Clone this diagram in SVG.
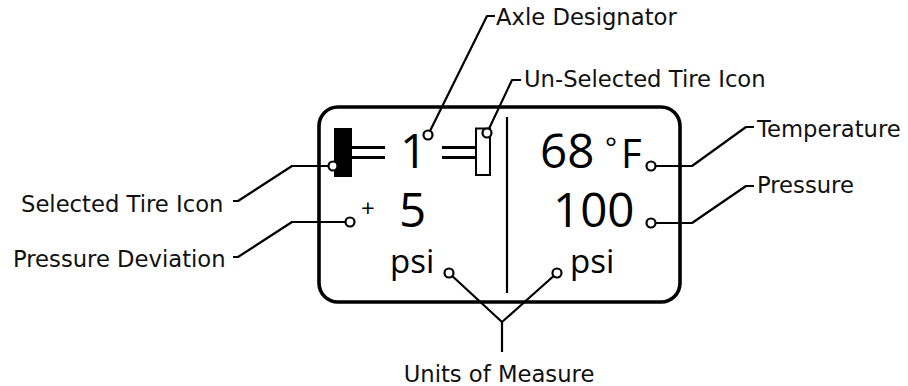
<svg xmlns="http://www.w3.org/2000/svg" width="908" height="386" viewBox="0 0 908 386">
<style>
.lbl{font-family:"DejaVu Sans","Liberation Sans",sans-serif;font-size:22.7px;fill:#111}
.big{font-family:"Open Sans","Noto Sans",sans-serif;font-size:47.5px;fill:#000}
.unit{font-family:"Open Sans","Noto Sans",sans-serif;font-size:33px;fill:#000}
.ld{fill:none;stroke:#000;stroke-width:2.2;stroke-linejoin:round}
.dot{fill:#fff;stroke:#000;stroke-width:2.2}
.bar{stroke:#000;stroke-width:3}
</style>
<rect width="908" height="386" fill="#fff"/>
<g id="display">
<rect x="319" y="107" width="361" height="195" rx="19" fill="none" stroke="#000" stroke-width="3.6"/>
<line x1="507" y1="117" x2="507" y2="293" stroke="#000" stroke-width="2.2"/>
</g>
<g id="selected-tire-icon">
<rect x="334" y="128" width="18" height="49" fill="#000"/>
<line class="bar" x1="352" y1="147.5" x2="385" y2="147.5"/>
<line class="bar" x1="352" y1="157.5" x2="385" y2="157.5"/>
</g>
<g id="unselected-tire-icon">
<rect x="476" y="128.5" width="14" height="46.5" fill="#fff" stroke="#000" stroke-width="2"/>
<line class="bar" x1="442" y1="147.5" x2="475" y2="147.5"/>
<line class="bar" x1="442" y1="157.5" x2="475" y2="157.5"/>
</g>
<g id="axle-number"><text class="big" x="400" y="168">1</text></g>
<g id="deviation"><text x="361" y="217" font-family="Open Sans,Noto Sans,sans-serif" font-size="24">+</text><text class="big" x="399" y="227">5</text></g>
<g id="temperature-reading"><text class="big" x="540" y="168">68</text><text x="605" y="158" font-family="Open Sans,Noto Sans,sans-serif" font-size="28">°</text><text x="621" y="168" font-family="Open Sans,Noto Sans,sans-serif" font-size="40">F</text></g>
<g id="pressure-reading"><text class="big" x="553" y="227">100</text></g>
<g id="units-left"><text class="unit" x="390" y="273">psi</text></g>
<g id="units-right"><text class="unit" x="570" y="273">psi</text></g>
<g id="connectors">
<polyline class="ld" points="495,16 487,16 428,135"/>
<polyline class="ld" points="521,80 512,80 487,133"/>
<polyline class="ld" points="233,201 238,201 292,166 333,166"/>
<polyline class="ld" points="233,257 238,257 292,222 350,222"/>
<polyline class="ld" points="754,127 746,127 692,166 651,166"/>
<polyline class="ld" points="754,186 746,186 692,223 651,223"/>
<polyline class="ld" points="449,273 502,322 557,273"/>
<line class="ld" x1="502" y1="322" x2="502" y2="352"/>
<circle class="dot" cx="428" cy="135" r="4.5"/>
<circle class="dot" cx="487" cy="133" r="4.5"/>
<circle class="dot" cx="333" cy="166" r="4.5"/>
<circle class="dot" cx="350" cy="222" r="4.5"/>
<circle class="dot" cx="651" cy="166" r="4.5"/>
<circle class="dot" cx="651" cy="223" r="4.5"/>
<circle class="dot" cx="449" cy="273" r="4.5"/>
<circle class="dot" cx="557" cy="273" r="4.5"/>
</g>
<g id="label-axle"><text class="lbl" x="496" y="25">Axle Designator</text></g>
<g id="label-unselected"><text class="lbl" x="524" y="87">Un-Selected Tire Icon</text></g>
<g id="label-selected"><text class="lbl" x="21" y="212">Selected Tire Icon</text></g>
<g id="label-deviation"><text class="lbl" x="13" y="267">Pressure Deviation</text></g>
<g id="label-temperature"><text class="lbl" x="757" y="137">Temperature</text></g>
<g id="label-pressure"><text class="lbl" x="757" y="193">Pressure</text></g>
<g id="label-units"><text class="lbl" x="499" y="382" text-anchor="middle">Units of Measure</text></g>
</svg>
